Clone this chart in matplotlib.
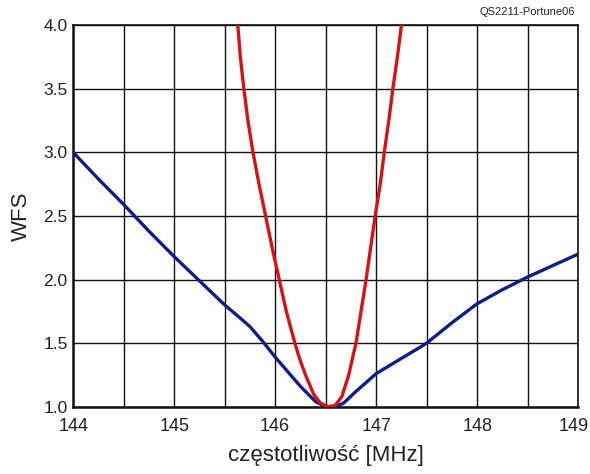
import matplotlib
matplotlib.use("Agg")
import matplotlib.pyplot as plt
import matplotlib.transforms as mtransforms
from matplotlib.ticker import MultipleLocator

plt.rcParams['font.family'] = ['Liberation Sans', 'DejaVu Sans']

# niebieska krzywa (szeroka)
blue_f = [144.0, 144.25, 144.5, 144.75, 145.0, 145.25, 145.5, 145.62, 145.75,
          145.88, 146.0, 146.25, 146.4, 146.5, 146.6, 146.68, 146.8, 147.0,
          147.25, 147.44, 147.5, 147.75, 148.0, 148.25, 148.5, 148.75, 149.0]
blue_wfs = [3.00, 2.79, 2.59, 2.38, 2.18, 1.99, 1.80, 1.72, 1.63,
            1.51, 1.39, 1.16, 1.04, 1.00, 1.00, 1.03, 1.12, 1.26,
            1.38, 1.47, 1.50, 1.66, 1.81, 1.92, 2.02, 2.11, 2.20]

# czerwona krzywa (waska)
red_f = [145.63, 145.655, 145.69, 145.73, 145.78, 145.84, 145.905, 145.97,
         146.04, 146.11, 146.195, 146.245, 146.305, 146.38, 146.445, 146.525,
         146.595, 146.66, 146.725, 146.80, 146.85, 146.90, 146.945, 146.99,
         147.04, 147.08, 147.125, 147.165, 147.21, 147.25]
red_wfs = [4.0, 3.75, 3.5, 3.25, 3.0, 2.75, 2.5, 2.25,
           2.0, 1.75, 1.5, 1.37, 1.24, 1.1, 1.03, 1.0,
           1.01, 1.08, 1.24, 1.5, 1.75, 2.0, 2.25, 2.5,
           2.75, 3.0, 3.25, 3.5, 3.75, 4.0]

xticks = [144, 145, 146, 147, 148, 149]
yticks = [1.0, 1.5, 2.0, 2.5, 3.0, 3.5, 4.0]

fig = plt.figure(figsize=(5.9, 4.74), dpi=100)
ax = fig.add_axes([0.124, 0.142, 0.856, 0.805])

ax.plot(blue_f, blue_wfs, color="#0d1d8c", lw=2.4, solid_capstyle="round",
        solid_joinstyle="round", zorder=3)
ax.plot(red_f, red_wfs, color="#d41414", lw=2.4, solid_capstyle="round",
        solid_joinstyle="round", zorder=4)

ax.set_xlim(144, 149)
ax.set_ylim(1.0, 4.0)
ax.set_xticks(xticks)
ax.set_xticklabels([str(t) for t in xticks])
ax.set_yticks(yticks)
ax.set_yticklabels(["%.1f" % t for t in yticks])
ax.xaxis.set_minor_locator(MultipleLocator(0.5))
ax.grid(True, which="both", color="#111111", lw=1.0)
ax.set_axisbelow(True)

ax.tick_params(axis="both", which="both", length=0)
ax.tick_params(axis="x", labelsize=13, pad=8, colors="#222222")
ax.tick_params(axis="y", labelsize=12.5, pad=4, colors="#222222")

for s in ax.spines.values():
    s.set_linewidth(1.2)
    s.set_color("#111111")
ax.spines["left"].set_linewidth(1.8)
ax.spines["bottom"].set_linewidth(1.8)

ax.set_xlabel("częstotliwość [MHz]", fontsize=16, color="#222222", labelpad=7)
ax.set_ylabel("WFS", fontsize=16, color="#222222", labelpad=8)

fig.text(0.975, 0.975, "QS2211-Portune06", ha="right", va="center",
         fontsize=8, color="#222222")

# ostatnia etykieta osi x lekko w lewo, zeby sie zmiescila
fig.canvas.draw()
last = ax.get_xticklabels()[-1]
last.set_transform(last.get_transform() +
                   mtransforms.ScaledTranslation(-0.05, 0, fig.dpi_scale_trans))

fig.savefig("out.png", dpi=100)
